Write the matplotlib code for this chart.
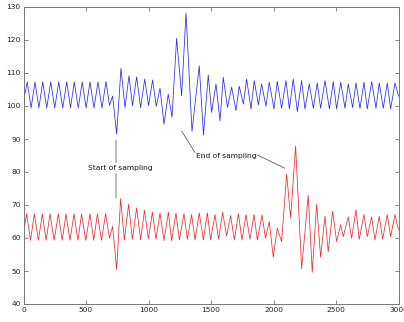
import matplotlib
matplotlib.use("Agg")
import matplotlib.pyplot as plt

# Extremes (peaks/troughs) of the two signals
blue_x = [0, 30, 61, 92, 123, 154, 186, 218, 250, 282, 314, 346, 376, 406, 438, 470, 501, 532, 564, 596,
          628, 660, 688, 713, 745, 780, 812, 844, 872, 905, 937, 970, 1000, 1033, 1062, 1092, 1124, 1158, 1188, 1225,
          1265, 1300, 1348, 1406, 1440, 1478, 1505, 1540, 1572, 1598, 1632, 1665, 1700, 1726, 1759, 1785, 1820, 1846, 1879, 1905,
          1940, 1966, 2004, 2030, 2065, 2100, 2127, 2158, 2191, 2225, 2252, 2286, 2319, 2350, 2377, 2412, 2447, 2478, 2505, 2538,
          2572, 2598, 2633, 2660, 2692, 2724, 2750, 2786, 2820, 2846, 2878, 2910, 2937, 2972, 3000]
blue_y = [101.5, 107.3, 99.4, 107.3, 99.4, 107.3, 99.4, 107.3, 99.4, 107.3, 99.4, 107.3, 99.4, 107.3, 99.4, 107.3, 99.4, 107.3, 99.4, 107.3,
          99.4, 107.4, 100.2, 103.0, 91.5, 111.4, 99.5, 109.2, 100.1, 108.8, 99.5, 108.2, 100.1, 107.9, 99.9, 105.4, 94.5, 103.6, 96.6, 120.5,
          103.1, 128.2, 92.3, 112.2, 91.2, 109.4, 98.1, 106.7, 95.5, 108.7, 99.6, 105.7, 98.6, 106.0, 100.6, 108.2, 99.1, 107.7, 100.3, 106.7,
          99.9, 107.2, 99.1, 107.5, 99.3, 107.7, 99.1, 108.2, 98.3, 107.7, 99.1, 106.7, 99.3, 107.0, 99.3, 107.7, 99.1, 107.4, 99.1, 107.2,
          99.3, 106.7, 99.5, 107.0, 99.3, 107.2, 99.1, 107.4, 99.3, 107.0, 99.3, 107.0, 99.1, 107.0, 103.0]

red_x = [0, 25, 56, 87, 119, 151, 181, 212, 245, 279, 310, 340, 372, 404, 435, 465, 498, 532, 562, 591,
         624, 657, 688, 713, 745, 777, 807, 841, 871, 905, 937, 968, 999, 1031, 1060, 1092, 1124, 1159, 1185, 1220,
         1247, 1284, 1311, 1345, 1372, 1406, 1439, 1471, 1497, 1532, 1561, 1593, 1625, 1657, 1687, 1719, 1748, 1780, 1812, 1844,
         1871, 1908, 1936, 1966, 1998, 2030, 2065, 2105, 2137, 2177, 2225, 2278, 2310, 2345, 2377, 2412, 2438, 2473, 2505, 2537,
         2558, 2598, 2625, 2660, 2686, 2724, 2750, 2785, 2812, 2846, 2873, 2910, 2937, 2972, 3000]
red_y = [61.5, 67.3, 59.3, 67.3, 59.3, 67.3, 59.3, 67.3, 59.3, 67.3, 59.3, 67.3, 59.3, 67.3, 59.3, 67.3, 59.3, 67.3, 59.3, 67.3,
         59.3, 67.4, 60.0, 63.5, 50.5, 71.9, 59.4, 70.2, 59.6, 69.1, 59.5, 68.4, 59.7, 67.8, 59.6, 67.6, 59.2, 67.8, 59.2, 67.6,
         59.4, 67.4, 59.6, 67.1, 59.4, 67.6, 59.4, 67.6, 59.4, 67.1, 59.6, 67.8, 60.6, 66.8, 59.4, 67.4, 59.4, 67.1, 59.6, 67.1,
         59.4, 67.0, 60.0, 65.0, 54.2, 63.0, 58.9, 79.4, 66.1, 87.9, 50.7, 72.9, 49.6, 70.2, 54.2, 66.6, 55.8, 68.1, 58.9, 64.0,
         60.4, 66.4, 59.9, 68.6, 59.6, 67.1, 60.4, 66.4, 59.4, 66.6, 59.6, 67.1, 60.4, 67.1, 62.5]

x_ticks = [0, 500, 1000, 1500, 2000, 2500, 3000]
y_ticks = [40, 50, 60, 70, 80, 90, 100, 110, 120, 130]

fig = plt.figure(figsize=(4.04, 3.22), dpi=100)
ax = fig.add_axes([23.5 / 404, 18 / 322, 375 / 404, 297 / 322])

ax.plot(blue_x, blue_y, color="#2a2aee", lw=0.55, solid_joinstyle="round")
ax.plot(red_x, red_y, color="#ee2a2a", lw=0.55, solid_joinstyle="round")

ax.set_xlim(0, 3000)
ax.set_ylim(40, 130)
ax.set_xticks(x_ticks)
ax.set_yticks(y_ticks)
ax.tick_params(direction="in", top=True, right=True, labelsize=5.4, length=3,
               width=0.5, colors="#555555", labelcolor="#222222", pad=2)
for s in ax.spines.values():
    s.set_color("#777777")
    s.set_linewidth(0.7)

fs = 5.4
lc = "#444444"
ap = dict(arrowstyle="-", lw=0.5, color=lc, shrinkA=0, shrinkB=0)

ax.text(772, 81.2, "Start of sampling", ha="center", va="center", fontsize=fs, color="#111111")
ax.annotate("", xy=(740, 89.7), xytext=(740, 82.8), arrowprops=ap)
ax.annotate("", xy=(740, 72.1), xytext=(740, 79.6), arrowprops=ap)

ax.text(1620, 84.9, "End of sampling", ha="center", va="center", fontsize=fs, color="#111111")
ax.annotate("", xy=(1266, 92.4), xytext=(1372, 85.9), arrowprops=ap)
ax.annotate("", xy=(2092, 81.1), xytext=(1868, 85.2), arrowprops=ap)

fig.savefig("out.png", dpi=100)
